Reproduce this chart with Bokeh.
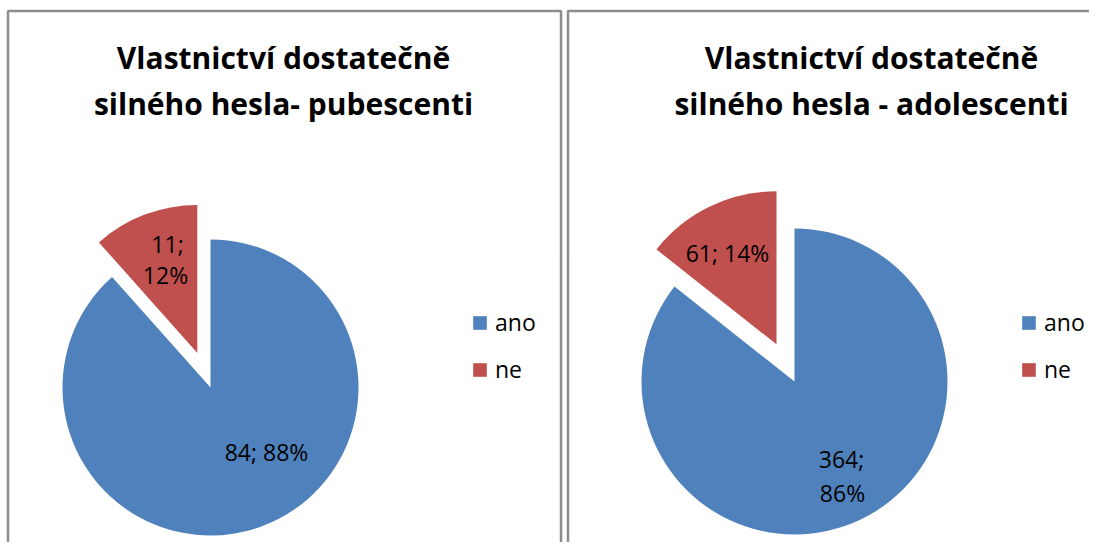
import math
from bokeh.plotting import figure
from bokeh.models import Range1d, Legend, LegendItem, ColumnDataSource
from bokeh.core.properties import value
from bokeh.embed import file_html
from bokeh.resources import INLINE

# ---------------- data ----------------
categories = ["ano", "ne"]
pub_counts = [84, 11]
pub_percent = [88, 12]
ado_counts = [364, 61]
ado_percent = [86, 14]
pub_title = ["Vlastnictví dostatečně", "silného hesla- pubescenti"]
ado_title = ["Vlastnictví dostatečně", "silného hesla - adolescenti"]
colors = ["#4F81BD", "#C0504D"]

# ---------------- layout (reference pixel coords) ----------------
W, H = 1089, 542
FONT = "Open Sans"


def Y(ry):
    return H - ry


p = figure(width=W, height=H, x_range=Range1d(0, W), y_range=Range1d(0, H),
           output_backend="svg", toolbar_location=None, min_border=0)
p.axis.visible = False
p.grid.visible = False
p.outline_line_color = None
p.background_fill_color = "white"
p.border_fill_color = "white"

# panel frames
p.quad(left=[7.5, 567.5], right=[560.5, 1120], top=[Y(10.5), Y(10.5)], bottom=[Y(600), Y(600)],
       fill_color=None, line_color="#8C8C8C", line_width=2.5)

panels = [
    dict(counts=pub_counts, pct=pub_percent, title=pub_title, cx=210, cy=387, r=148, explode=0.25,
         tx=283, legx=471),
    dict(counts=ado_counts, pct=ado_percent, title=ado_title, cx=794, cy=381, r=153, explode=0.27,
         tx=871, legx=1020),
]

label_specs = [
    [[("84; 88%", 266, 451)], [("11;", 167, 243), ("12%", 165, 274)]],
    [[("364;", 841, 458), ("86%", 842, 492)], [("61; 14%", 727, 252)]],
]

for pi, pn in enumerate(panels):
    counts = pn["counts"]
    total = sum(counts)
    cum = 0.0
    xs, ys, starts, ends = [], [], [], []
    for i, c in enumerate(counts):
        a_hi = math.pi / 2 - 2 * math.pi * cum / total
        cum += c
        a_lo = math.pi / 2 - 2 * math.pi * cum / total
        mid = (a_hi + a_lo) / 2
        d = pn["r"] * pn["explode"] if i == 1 else 0.0
        xs.append(pn["cx"] + d * math.cos(mid))
        ys.append(Y(pn["cy"]) + d * math.sin(mid))
        starts.append(a_lo)
        ends.append(a_hi)
    src = ColumnDataSource(dict(x=xs, y=ys, start=starts, end=ends, color=colors,
                                cat=categories))
    rend = p.wedge(x="x", y="y", radius=pn["r"], start_angle="start", end_angle="end",
                   direction="anticlock", fill_color="color", line_color=None, source=src)

    # title
    for li, line in enumerate(pn["title"]):
        p.text(x=[pn["tx"]], y=[Y(57 + 46 * li)], text=[line], text_font=value(FONT),
               text_font_style="bold", text_font_size="30px", text_align="center",
               text_baseline="middle", text_color="black")

    # data labels
    for ci, lines in enumerate(label_specs[pi]):
        for (t, lx, ly) in lines:
            p.text(x=[lx], y=[Y(ly)], text=[t], text_font=value(FONT), text_font_size="23px",
                   text_align="center", text_baseline="middle", text_color="black")

    # legend
    items = [LegendItem(label=categories[i], renderers=[rend], index=i) for i in range(2)]
    leg = Legend(items=items, location=(pn["legx"], 157), orientation="vertical",
                 border_line_color=None, background_fill_alpha=0, padding=0, margin=0,
                 glyph_width=17, glyph_height=17, label_standoff=7, label_height=32,
                 spacing=15, label_text_font=FONT, label_text_font_size="23px",
                 label_text_color="black")
    p.add_layout(leg)

open("out.html", "w").write(file_html(p, INLINE))
